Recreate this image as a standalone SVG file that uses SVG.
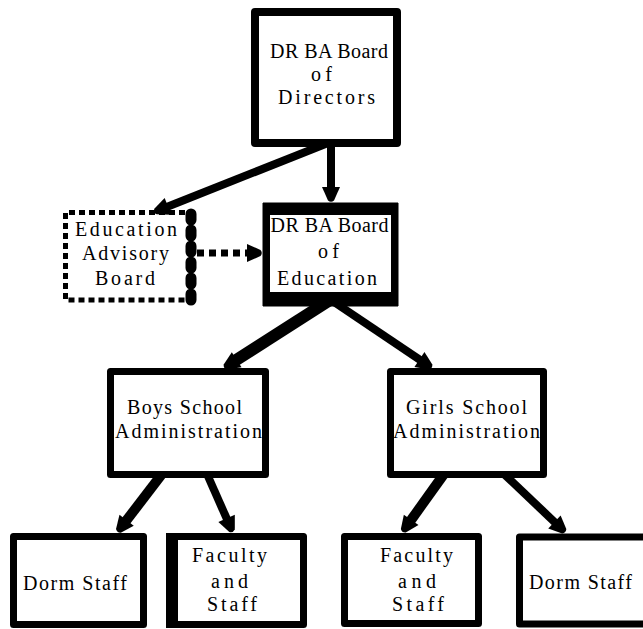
<svg xmlns="http://www.w3.org/2000/svg" width="643" height="629" viewBox="0 0 643 629" font-family="Liberation Serif, DejaVu Serif, Times New Roman, serif">
<style>
.box{fill:#fff;stroke:#000;stroke-width:7;stroke-linejoin:round}
.t{font-size:20px;fill:#000}
.ln{stroke:#000;fill:none;stroke-linecap:butt}
</style>
<defs>
<marker id="ah" markerUnits="userSpaceOnUse" markerWidth="20" markerHeight="20" viewBox="0 -10 20 20" refX="2" refY="0" orient="auto" overflow="visible">
<path d="M0,-9 L13.5,-3 Q16,0 13.5,3 L0,9 Z" fill="#000"/>
</marker>
</defs>
<rect width="643" height="629" fill="#fff"/>

<g id="directors">
<rect class="box" x="255" y="12" width="142" height="131" style="stroke-width:8"/>
<text class="t" x="270" y="58" textLength="118" lengthAdjust="spacing">DR BA Board</text>
<text class="t" x="311" y="81" textLength="21" lengthAdjust="spacing">of</text>
<text class="t" x="278" y="104" textLength="97" lengthAdjust="spacing">Directors</text>
</g>

<g id="education-board">
<path d="M263,203 H398 V306 H263 Z M270,215 V292 H391 V215 Z" fill="#000" fill-rule="evenodd" stroke="#000" stroke-width="1" stroke-linejoin="round"/>
<rect x="270" y="215" width="121" height="77" fill="#fff"/>
<text class="t" x="270.5" y="232" textLength="118" lengthAdjust="spacing">DR BA Board</text>
<text class="t" x="318" y="258" textLength="21" lengthAdjust="spacing">of</text>
<text class="t" x="277" y="285" textLength="100" lengthAdjust="spacing">Education</text>
</g>

<g id="advisory">
<rect x="65" y="212" width="126" height="88" fill="#fff"/>
<path d="M185,212.5 H65.5 V300 H185" fill="none" stroke="#000" stroke-width="5" stroke-dasharray="6,4"/>
<line x1="191" y1="214" x2="191" y2="300" stroke="#000" stroke-width="11" stroke-linecap="round" stroke-dasharray="6,10"/>
<text class="t" x="75" y="236" textLength="102" lengthAdjust="spacing">Education</text>
<text class="t" x="82" y="260" textLength="87" lengthAdjust="spacing">Advisory</text>
<text class="t" x="95" y="285" textLength="60" lengthAdjust="spacing">Board</text>
</g>

<g id="boys-admin">
<rect class="box" x="110.5" y="371.5" width="155" height="103"/>
<text class="t" x="127" y="414" textLength="115" lengthAdjust="spacing">Boys School</text>
<text class="t" x="115" y="438" textLength="147" lengthAdjust="spacing">Administration</text>
</g>

<g id="girls-admin">
<rect class="box" x="390.5" y="371.5" width="153" height="103"/>
<text class="t" x="406" y="414" textLength="121" lengthAdjust="spacing">Girls School</text>
<text class="t" x="393" y="438" textLength="147" lengthAdjust="spacing">Administration</text>
</g>

<g id="boys-dorm">
<rect class="box" x="13.5" y="536.5" width="130" height="88"/>
<text class="t" x="23" y="590" textLength="104" lengthAdjust="spacing">Dorm Staff</text>
</g>

<g id="boys-faculty">
<rect class="box" x="169.5" y="536.5" width="134" height="88"/>
<rect x="166" y="533" width="12" height="95" fill="#000"/>
<text class="t" x="192" y="562" textLength="75" lengthAdjust="spacing">Faculty</text>
<text class="t" x="211" y="588" textLength="37" lengthAdjust="spacing">and</text>
<text class="t" x="207" y="611" textLength="50" lengthAdjust="spacing">Staff</text>
</g>

<g id="girls-faculty">
<rect class="box" x="344.5" y="536.5" width="134" height="87"/>
<text class="t" x="380" y="562" textLength="73" lengthAdjust="spacing">Faculty</text>
<text class="t" x="398" y="588" textLength="38" lengthAdjust="spacing">and</text>
<text class="t" x="392" y="611" textLength="52" lengthAdjust="spacing">Staff</text>
</g>

<g id="girls-dorm">
<rect class="box" x="519.5" y="537" width="140" height="87"/>
<text class="t" x="529" y="589" textLength="103" lengthAdjust="spacing">Dorm Staff</text>
</g>

<g id="connectors">
<line class="ln" x1="331" y1="143" x2="331" y2="189" stroke-width="8" marker-end="url(#ah)"/>
<line class="ln" x1="328" y1="143" x2="166.1" y2="207.2" stroke-width="8" marker-end="url(#ah)"/>
<line class="ln" x1="197" y1="253" x2="249" y2="253" stroke-width="7" stroke-dasharray="7,5" marker-end="url(#ah)"/>
<line class="ln" x1="330" y1="300" x2="235" y2="360.8" stroke-width="12" marker-end="url(#ah)"/>
<line class="ln" x1="331" y1="300" x2="421.1" y2="360.6" stroke-width="8" marker-end="url(#ah)"/>
<line class="ln" x1="162" y1="474" x2="125.4" y2="521.8" stroke-width="10" marker-end="url(#ah)"/>
<line class="ln" x1="207" y1="474" x2="227.4" y2="520.2" stroke-width="8" marker-end="url(#ah)"/>
<line class="ln" x1="444" y1="474" x2="410" y2="521.5" stroke-width="10" marker-end="url(#ah)"/>
<line class="ln" x1="504" y1="474" x2="555.9" y2="523.3" stroke-width="8" marker-end="url(#ah)"/>
</g>
</svg>
